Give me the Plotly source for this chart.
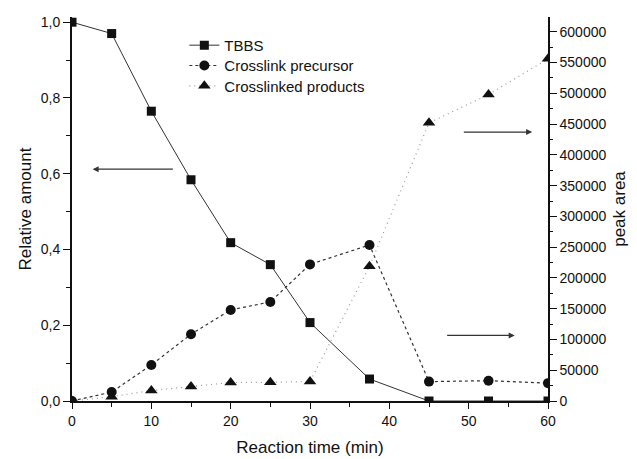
import plotly.graph_objects as go

# ---- data ----
time_min = [0, 5, 10, 15, 20, 25, 30, 37.5, 45, 52.5, 60]
tbbs_rel = [1.0, 0.970, 0.765, 0.584, 0.418, 0.360, 0.207, 0.058, 0.0, 0.0, 0.0]
precursor_area = [0, 14500, 58600, 108500, 148000, 161000, 222000, 253500, 31500, 33000, 29000]
products_area = [0, 7000, 17000, 23500, 30000, 30500, 31500, 219000, 452000, 498000, 556000]

x_tickvals = [0, 10, 20, 30, 40, 50, 60]
x_ticktext = ["0", "10", "20", "30", "40", "50", "60"]
y_tickvals = [0.0, 0.2, 0.4, 0.6, 0.8, 1.0]
y_ticktext = ["0,0", "0,2", "0,4", "0,6", "0,8", "1,0"]
y2_tickvals = [0, 50000, 100000, 150000, 200000, 250000, 300000,
               350000, 400000, 450000, 500000, 550000, 600000]
y2_ticktext = [str(v) for v in y2_tickvals]

FONT = "Liberation Sans, Arial, sans-serif"

fig = go.Figure()
fig.add_trace(go.Scatter(
    x=time_min, y=tbbs_rel, name="TBBS", mode="lines+markers",
    line=dict(color="#333333", width=1),
    marker=dict(symbol="square", size=9, color="#111111"),
    yaxis="y", legend="legend"))
fig.add_trace(go.Scatter(
    x=time_min, y=precursor_area, name="Crosslink precursor", mode="lines+markers",
    line=dict(color="#333333", width=1.2, dash="3px,3px"),
    marker=dict(symbol="circle", size=10, color="#111111"),
    yaxis="y2", legend="legend2"))
fig.add_trace(go.Scatter(
    x=time_min, y=products_area, name="Crosslinked products", mode="lines+markers",
    line=dict(color="#999999", width=1.2, dash="1px,4px"),
    marker=dict(symbol="triangle-up", size=11, color="#111111"),
    yaxis="y2", legend="legend3"))

arrow_style = dict(showarrow=True, arrowhead=2, arrowsize=1, arrowwidth=1.2,
                   arrowcolor="#333333", text="", axref="x", ayref="y",
                   xref="x", yref="y")
fig.add_annotation(x=2.6, y=0.612, ax=12.9, ay=0.612, **arrow_style)
fig.add_annotation(x=58.0, y=0.710, ax=49.2, ay=0.710, **arrow_style)
fig.add_annotation(x=55.8, y=0.173, ax=47.1, ay=0.173, **arrow_style)

leg_common = dict(x=0.236, xanchor="left", yanchor="middle",
                  bgcolor="rgba(0,0,0,0)", borderwidth=0,
                  font=dict(family=FONT, size=15, color="#111111"))

fig.update_layout(
    width=637, height=459,
    margin=dict(l=72, r=89, t=17, b=58),
    paper_bgcolor="white", plot_bgcolor="white",
    font=dict(family=FONT, size=14, color="#111111"),
    showlegend=True,
    legend=dict(y=0.926, **leg_common),
    legend2=dict(y=0.873, **leg_common),
    legend3=dict(y=0.820, **leg_common),
    xaxis=dict(
        range=[0, 60], tickmode="array", tickvals=x_tickvals, ticktext=x_ticktext,
        ticks="outside", ticklen=6, tickwidth=1.2, tickcolor="#111111",
        minor=dict(ticks="outside", ticklen=4, tickwidth=1.2, tickcolor="#111111",
                   tickmode="linear", tick0=5, dtick=10),
        showline=True, linecolor="#111111", linewidth=2,
        showgrid=False, zeroline=False, automargin=False,
        title=dict(text="Reaction time (min)", font=dict(size=17), standoff=13),
        tickfont=dict(size=14)),
    yaxis=dict(
        range=[0, 1.0137], tickmode="array", tickvals=y_tickvals, ticktext=y_ticktext,
        ticks="outside", ticklen=7, tickwidth=1.2, tickcolor="#111111",
        minor=dict(ticks="outside", ticklen=4, tickwidth=1.2, tickcolor="#111111",
                   tickmode="linear", tick0=0.1, dtick=0.2),
        showline=True, linecolor="#111111", linewidth=2,
        showgrid=False, zeroline=False, automargin=False,
        title=dict(text="Relative amount", font=dict(size=17), standoff=5),
        tickfont=dict(size=14)),
    yaxis2=dict(
        range=[0, 624000], overlaying="y", side="right", anchor="x",
        tickmode="array", tickvals=y2_tickvals, ticktext=y2_ticktext,
        ticks="outside", ticklen=7, tickwidth=1.2, tickcolor="#111111",
        minor=dict(ticks="outside", ticklen=3, tickwidth=1.2, tickcolor="#111111",
                   tickmode="linear", tick0=25000, dtick=50000),
        showline=True, linecolor="#111111", linewidth=1.5,
        showgrid=False, zeroline=False, automargin=False,
        title=dict(text="peak area", font=dict(size=17), standoff=8),
        tickfont=dict(size=14)),
)

fig.write_html("out.html", config={"displayModeBar": False},
               post_script="document.body.style.margin='0';document.body.style.overflow='hidden';")
